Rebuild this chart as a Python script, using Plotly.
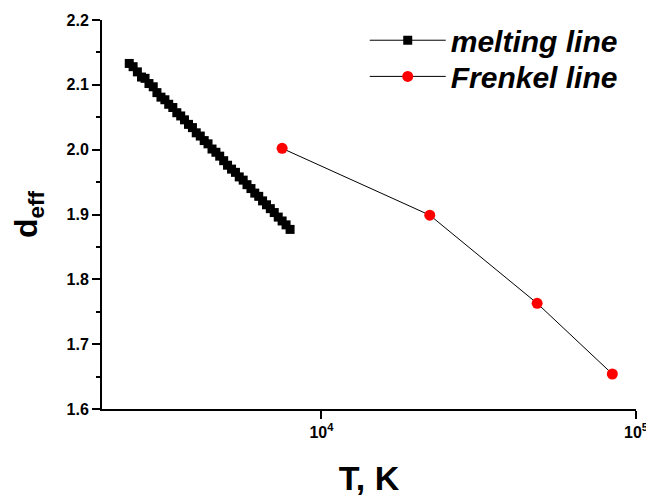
import plotly.graph_objects as go

# Melting line data (T in K, d_eff)
melt_T = [2450, 2520, 2600, 2680, 2750, 2830, 2920, 3000, 3090, 3180, 3270, 3370,
          3470, 3570, 3670, 3780, 3890, 4000, 4120, 4240, 4360, 4490, 4620, 4750,
          4890, 5030, 5180, 5330, 5480, 5640, 5800, 5970, 6140, 6320, 6500, 6690,
          6880, 7080, 7290, 7500, 7720, 7950]
melt_d = [2.133, 2.128, 2.120, 2.112, 2.110, 2.102, 2.097, 2.088, 2.081, 2.077, 2.070, 2.065,
          2.057, 2.052, 2.046, 2.039, 2.034, 2.026, 2.021, 2.014, 2.009, 2.001, 1.996, 1.990,
          1.983, 1.976, 1.970, 1.965, 1.958, 1.953, 1.946, 1.940, 1.933, 1.928, 1.921, 1.915,
          1.909, 1.903, 1.896, 1.890, 1.884, 1.877]

# Frenkel line data
frenkel_T = [7500, 22100, 48500, 84100]
frenkel_d = [2.002, 1.899, 1.763, 1.654]

x_major_vals = [1e4, 1e5]
x_major_text = ["10<sup>4</sup>", "10<sup>5</sup>"]
x_minor_vals = [2000, 3000, 4000, 5000, 6000, 7000, 8000, 9000,
                20000, 30000, 40000, 50000, 60000, 70000, 80000, 90000]

FONT = "Liberation Sans, Arial, sans-serif"
LEGEND_FONT = dict(family=FONT, size=30, color="black", weight="bold", style="italic")

fig = go.Figure()
fig.add_trace(go.Scatter(
    x=melt_T, y=melt_d, mode="lines+markers", name="melting line",
    line=dict(color="black", width=1),
    marker=dict(symbol="square", size=9, color="black"),
    legend="legend",
))
fig.add_trace(go.Scatter(
    x=frenkel_T, y=frenkel_d, mode="lines+markers", name="Frenkel line",
    line=dict(color="black", width=1),
    marker=dict(symbol="circle", size=11, color="#ff0000"),
    legend="legend2",
))

fig.update_layout(
    width=646, height=489,
    margin=dict(l=94, r=18, t=12, b=88, autoexpand=False),
    plot_bgcolor="white", paper_bgcolor="white",
    showlegend=True,
    legend=dict(
        x=0.492, y=0.948, xanchor="left", yanchor="middle",
        font=LEGEND_FONT, bgcolor="rgba(0,0,0,0)", itemwidth=76,
    ),
    legend2=dict(
        x=0.492, y=0.855, xanchor="left", yanchor="middle",
        font=LEGEND_FONT, bgcolor="rgba(0,0,0,0)", itemwidth=76,
    ),
    xaxis=dict(
        type="log", range=[3.3025, 5], automargin=False,
        tickmode="array", tickvals=x_major_vals, ticktext=x_major_text,
        ticks="outside", ticklen=8, tickwidth=1.5, tickcolor="black",
        showline=True, linecolor="black", linewidth=2,
        showgrid=False, zeroline=False,
        tickfont=dict(family=FONT, size=16, color="black", weight="bold"),
        title=dict(text="T, K", standoff=26,
                   font=dict(family=FONT, size=34, color="black", weight="bold")),
    ),
    xaxis2=dict(
        type="log", range=[3.3025, 5], overlaying="x", anchor="y", side="bottom",
        automargin=False,
        tickmode="array", tickvals=x_minor_vals, ticktext=[""] * len(x_minor_vals),
        ticks="outside", ticklen=4, tickwidth=1.5, tickcolor="black",
        showline=False, showgrid=False, zeroline=False, showticklabels=False,
    ),
    yaxis=dict(
        range=[1.6, 2.2], automargin=False,
        tick0=1.6, dtick=0.1, tickformat=".1f",
        ticks="outside", ticklen=8, tickwidth=1.5, tickcolor="black",
        showline=True, linecolor="black", linewidth=2,
        showgrid=False, zeroline=False,
        tickfont=dict(family=FONT, size=16, color="black", weight="bold"),
        minor=dict(tick0=1.6, dtick=0.05, ticks="outside", ticklen=4, tickwidth=1.5,
                   tickcolor="black", showgrid=False),
        title=dict(text="d<sub>eff</sub>", standoff=26,
                   font=dict(family=FONT, size=32, color="black", weight="bold")),
    ),
)

fig.write_html("out.html")
